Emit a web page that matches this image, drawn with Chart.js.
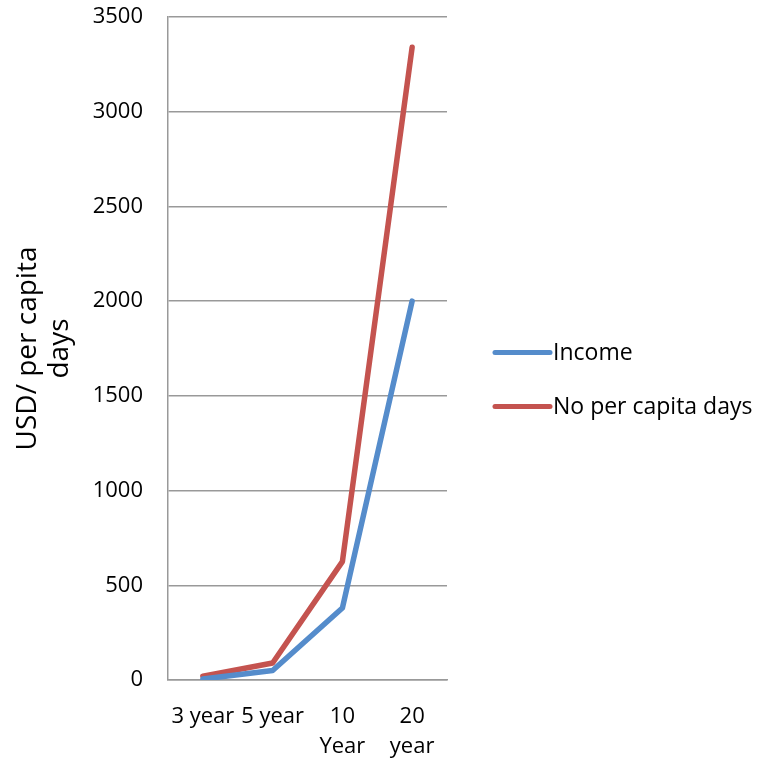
<!DOCTYPE html>
<html>
<head>
<meta charset="utf-8">
<script src="https://cdn.jsdelivr.net/npm/chart.js@4.4.0/dist/chart.umd.min.js"></script>
<style>
  html, body { margin: 0; padding: 0; background: #ffffff; }
  #wrap { width: 757px; height: 759px; position: relative; }
</style>
</head>
<body>
<div id="wrap"><canvas id="chart" width="757" height="759"></canvas></div>
<script>
// Horizon labels (wrapped ones are two-line arrays)
const categories = ['3 year', '5 year', ['10', 'Year'], ['20', 'year']];

// Series values
const incomeValues = [5, 50, 380, 2000];
const perCapitaDaysValues = [20, 90, 625, 3340];

// Series names and axis settings
const seriesNames = ['Income', 'No per capita days'];
const seriesColors = ['#558CCB', '#C4534F'];
const yAxisTitle = ['USD/ per capita', 'days'];
const yMin = 0;
const yMax = 3500;
const yStep = 500;

const FONT = "'Open Sans', 'Liberation Sans', sans-serif";
const GRID = '#999999';

// Legend drawn to the right of the plot: short thick line + label
const sideLegend = {
  id: 'sideLegend',
  afterDraw(chart) {
    const ctx = chart.ctx;
    const sets = chart.data.datasets;
    const gap = 54;
    const cy = chart.height / 2;
    const x0 = 495, x1 = 550;
    ctx.save();
    ctx.font = '23px ' + FONT;
    ctx.textBaseline = 'middle';
    ctx.textAlign = 'left';
    sets.forEach((ds, i) => {
      const y = cy + (i - (sets.length - 1) / 2) * gap;
      ctx.strokeStyle = ds.borderColor;
      ctx.lineWidth = 5;
      ctx.lineCap = 'round';
      ctx.beginPath();
      ctx.moveTo(x0, y);
      ctx.lineTo(x1, y);
      ctx.stroke();
      ctx.fillStyle = '#000000';
      ctx.fillText(ds.label, 553, y + 1);
    });
    ctx.restore();
  }
};

// Keep the plot box fixed: no extra room for overhanging tick labels
function noOverhang(scale) {
  scale.paddingTop = 0;
  scale.paddingBottom = 0;
  scale.paddingLeft = 0;
  scale.paddingRight = 0;
}

new Chart(document.getElementById('chart'), {
  type: 'line',
  data: {
    labels: categories,
    datasets: [
      {
        label: seriesNames[0],
        data: incomeValues,
        borderColor: seriesColors[0],
        backgroundColor: seriesColors[0],
        borderWidth: 5.5,
        pointRadius: 0,
        tension: 0,
        borderCapStyle: 'round',
        borderJoinStyle: 'round'
      },
      {
        label: seriesNames[1],
        data: perCapitaDaysValues,
        borderColor: seriesColors[1],
        backgroundColor: seriesColors[1],
        borderWidth: 5.5,
        pointRadius: 0,
        tension: 0,
        borderCapStyle: 'round',
        borderJoinStyle: 'round'
      }
    ]
  },
  options: {
    responsive: false,
    animation: false,
    layout: { padding: { top: 17, right: 310, bottom: 0, left: 0 } },
    plugins: {
      legend: { display: false },
      tooltip: { enabled: false }
    },
    scales: {
      x: {
        offset: true,
        grid: { display: false, drawTicks: false },
        border: { display: true, color: GRID, width: 1.5 },
        ticks: {
          color: '#000000',
          font: { family: FONT, size: 22, lineHeight: 1.4 },
          padding: 21,
          autoSkip: false,
          maxRotation: 0,
          minRotation: 0
        },
        afterFit(scale) { scale.height = 79; noOverhang(scale); }
      },
      y: {
        min: yMin,
        max: yMax,
        grid: { color: GRID, lineWidth: 1.5, drawTicks: false },
        border: { display: true, color: GRID, width: 1.5 },
        ticks: {
          stepSize: yStep,
          color: '#000000',
          font: { family: FONT, size: 22 },
          padding: 25,
          callback: (v) => String(v)
        },
        title: {
          display: true,
          text: yAxisTitle,
          color: '#000000',
          font: { family: FONT, size: 28, lineHeight: 1.15 },
          padding: { top: 12, bottom: 0 }
        },
        afterFit(scale) { scale.width = 168; noOverhang(scale); }
      }
    }
  },
  plugins: [sideLegend]
});
</script>
</body>
</html>
